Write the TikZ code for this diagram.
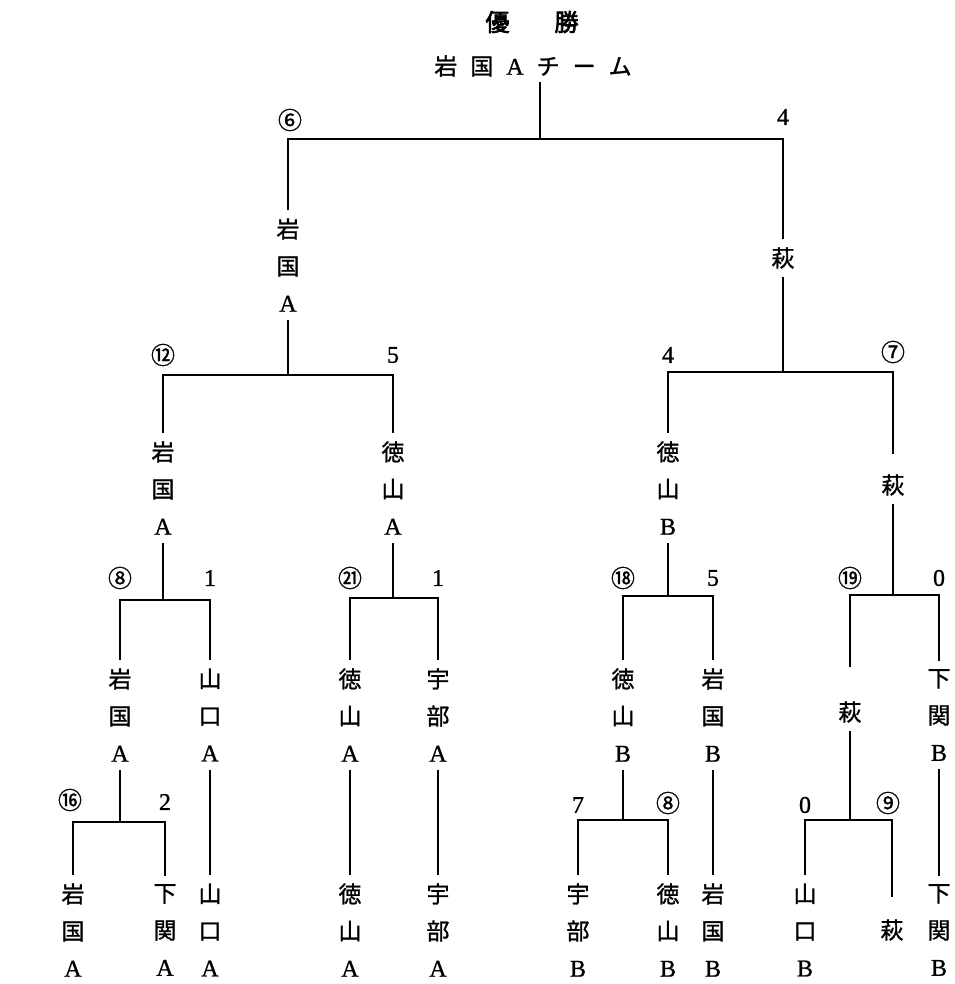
\documentclass[tikz,border=0pt]{standalone}
\usepackage{fontspec}
\setmainfont{Liberation Serif}
\newfontfamily\jp[FakeBold=1.2]{Noto Sans CJK JP}
\newfontfamily\jphead[FakeBold=3]{Noto Sans CJK JP}
\newfontfamily\latin[FakeBold=1]{Liberation Serif}
% Latin letters and digits set in the serif face
\newcommand\lat[1]{{\latin\fontsize{24}{37}\selectfont #1}}
\begin{document}
\begin{tikzpicture}[x=1pt,y=-1pt,line width=2.3pt,
  team/.style={font=\jp\fontsize{23}{37}\selectfont,align=center,inner xsep=0pt,inner ysep=7pt},
  score/.style={font=\jp\fontsize{24}{24}\selectfont,inner sep=0pt},
  headline/.style={font=\jp\fontsize{23}{23}\selectfont,inner sep=0pt}]
\useasboundingbox (0,0) rectangle (954,984);

% title
\node[headline,font=\jphead\fontsize{24}{24}\selectfont] (champ) at (532,22) {優\hspace{45pt}勝};
\node[headline,inner ysep=4pt] (winner) at (533,66) {岩\kern13pt国\kern13pt\lat{A}\kern13pt チ\kern13pt ー\kern13pt ム};

% teams, top to bottom
\node[team] (T1) at (288,265) {岩\\国\\\lat{A}};
\node[team] (T2) at (783,258) {萩};
\node[team] (T3) at (163,488) {岩\\国\\\lat{A}};
\node[team] (T4) at (393,488) {徳\\山\\\lat{A}};
\node[team] (T5) at (668,488) {徳\\山\\\lat{B}};
\node[team] (T6) at (893,485) {萩};
\node[team] (T7) at (120,715) {岩\\国\\\lat{A}};
\node[team] (T8) at (210,715) {山\\口\\\lat{A}};
\node[team] (T9) at (350,715) {徳\\山\\\lat{A}};
\node[team] (T10) at (438,715) {宇\\部\\\lat{A}};
\node[team] (T11) at (623,715) {徳\\山\\\lat{B}};
\node[team] (T12) at (713,715) {岩\\国\\\lat{B}};
\node[team] (T13) at (850,712) {萩};
\node[team] (T14) at (939,715) {下\\関\\\lat{B}};
\node[team] (B1) at (73,930) {岩\\国\\\lat{A}};
\node[team] (B2) at (165,930) {下\\関\\\lat{A}};
\node[team] (B3) at (210,930) {山\\口\\\lat{A}};
\node[team] (B4) at (350,930) {徳\\山\\\lat{A}};
\node[team] (B5) at (438,930) {宇\\部\\\lat{A}};
\node[team] (B6) at (578,930) {宇\\部\\\lat{B}};
\node[team] (B7) at (668,930) {徳\\山\\\lat{B}};
\node[team] (B8) at (713,930) {岩\\国\\\lat{B}};
\node[team] (B9) at (805,930) {山\\口\\\lat{B}};
\node[team] (B10) at (892,930) {萩};
\node[team] (B11) at (939,930) {下\\関\\\lat{B}};

% bar joints
\coordinate (b0) at (540,139);
\coordinate (b1) at (288,375);
\coordinate (b2) at (783,372);
\coordinate (b3) at (163,600);
\coordinate (b4) at (393,598);
\coordinate (b5) at (668,596);
\coordinate (b6) at (893,595);
\coordinate (b7) at (120,822);
\coordinate (b8) at (623,820);
\coordinate (b9) at (850,820);

% final
\draw (b0 |- winner.south) -- (b0);
\draw (T1.north) |- (b0) -| (T2.north);
% semifinals
\draw (T1.south) -- (b1);
\draw (T3.north) |- (b1) -| (T4.north);
\draw (T2.south) -- (b2);
\draw[shorten >=12pt] (T5.north) |- (b2) -| (T6.north);
% quarterfinals
\draw (T3.south) -- (b3);
\draw (T7.north) |- (b3) -| (T8.north);
\draw (T4.south) -- (b4);
\draw (T9.north) |- (b4) -| (T10.north);
\draw (T5.south) -- (b5);
\draw (T11.north) |- (b5) -| (T12.north);
\draw (T6.south) -- (b6);
\draw[shorten <=26pt] (T13.north) |- (b6) -| (T14.north);
% first round
\draw (T7.south) -- (b7);
\draw (B1.north) |- (b7) -| (B2.north);
\draw (T8.south) -- (B3.north);
\draw (T9.south) -- (B4.north);
\draw (T10.south) -- (B5.north);
\draw (T11.south) -- (b8);
\draw (B6.north) |- (b8) -| (B7.north);
\draw (T12.south) -- (B8.north);
\draw (T13.south) -- (b9);
\draw[shorten >=14pt] (B9.north) |- (b9) -| (B10.north);
\draw (T14.south) -- (B11.north);

% scores
\node[score] (s1) at (290,120) {⑥};
\node[score] (s2) at (783,117) {\lat{4}};
\node[score] (s3) at (163,355) {⑫};
\node[score] (s4) at (393,355) {\lat{5}};
\node[score] (s5) at (668,355) {\lat{4}};
\node[score] (s6) at (893,352) {⑦};
\node[score] (s7) at (120,578) {⑧};
\node[score] (s8) at (210,578) {\lat{1}};
\node[score] (s9) at (350,578) {㉑};
\node[score] (s10) at (438,578) {\lat{1}};
\node[score] (s11) at (623,578) {⑱};
\node[score] (s12) at (713,578) {\lat{5}};
\node[score] (s13) at (850,578) {⑲};
\node[score] (s14) at (939,578) {\lat{0}};
\node[score] (s15) at (70,800) {⑯};
\node[score] (s16) at (165,802) {\lat{2}};
\node[score] (s17) at (578,805) {\lat{7}};
\node[score] (s18) at (668,803) {⑧};
\node[score] (s19) at (805,805) {\lat{0}};
\node[score] (s20) at (888,803) {⑨};
\end{tikzpicture}
\end{document}
